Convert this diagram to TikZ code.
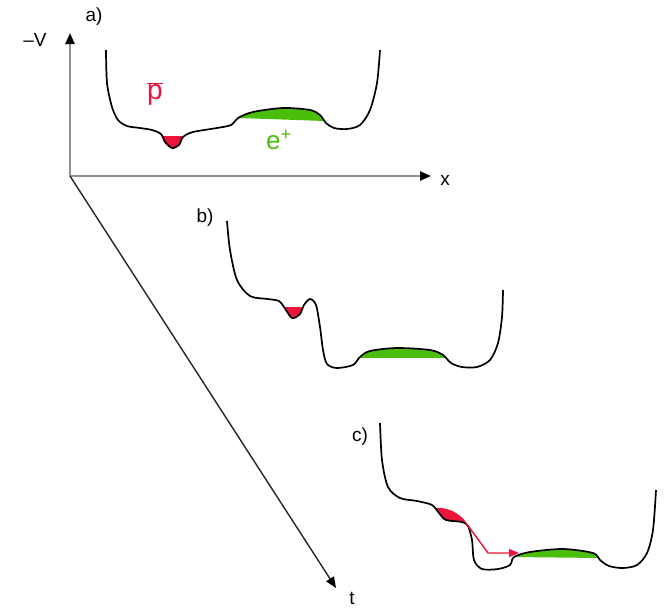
\documentclass[tikz,border=0pt]{standalone}
\usepackage{fontspec}
\setmainfont{Liberation Sans}
\usetikzlibrary{arrows.meta}
\definecolor{pbar}{RGB}{235,20,60}
\definecolor{epos}{RGB}{75,190,10}
\definecolor{axisgray}{RGB}{145,145,145}
\begin{document}
\begin{tikzpicture}[x=1pt,y=-1pt,
  axis/.style={line width=2.2pt,draw=axisgray,-{Triangle[length=11pt,width=9pt,color=black]}},
  taxis/.style={line width=1.4pt,draw=black!85,-{Triangle[length=11pt,width=9pt,color=black]}},
  pot/.style={line width=1.7pt,black,line join=round},
  lbl/.style={inner sep=0pt,font=\fontsize{19}{22}\selectfont},
  big/.style={inner sep=0pt,font=\fontsize{28}{30}\selectfont}]
\useasboundingbox (0,0) rectangle (667,611);

% potential curves at three times
\newcommand\curveA{plot[smooth,tension=0.5] coordinates {(106,50) (107,83) (112,107) (118,120) (127,126) (140,128) (152,130) (161,134) (165,142) (172,148) (179,145) (183,137) (193,132) (217,128) (231,125) (238,118) (253,112) (283,108) (310,110) (320,115) (326,123) (334,128) (347,129) (360,125) (370,110) (377,83) (380,50)}}
\newcommand\curveB{plot[smooth,tension=0.5] coordinates {(227,221) (230,250) (237,280) (250,296) (268,299) (279,301) (284,307) (292,318) (300,314) (304,305) (310,299) (316,305) (320,327) (323,350) (327,364) (337,368) (353,365) (360,357) (370,351) (397,348) (430,350) (443,355) (451,363) (462,367) (477,367) (490,360) (498,343) (502,317) (503,290)}}
\newcommand\curveC{plot[smooth,tension=0.5] coordinates {(380,423) (382,460) (388,487) (400,498) (417,501) (432,505) (439,513) (446,520) (462,522) (468,526) (472,540) (474,560) (482,569) (498,569) (510,565) (514,557) (530,552) (563,549) (593,553) (600,560) (609,566) (623,568) (637,565) (647,553) (653,530) (656,490)}}

% trapped antiprotons (red) and positron plasma (green)
\begin{scope}
  \clip (158,136) rectangle (188,160);
  \fill[pbar] \curveA -- (380,0) -- (106,0) -- cycle;
\end{scope}
\begin{scope}
  \clip (239,118) -- (325,121) -- (325,90) -- (239,90) -- cycle;
  \fill[epos] \curveA -- (380,300) -- (106,300) -- cycle;
\end{scope}
\begin{scope}
  \clip (280,307) rectangle (306,330);
  \fill[pbar] \curveB -- (503,150) -- (227,150) -- cycle;
\end{scope}
\begin{scope}
  \clip (359,357) -- (447,357) -- (447,330) -- (359,330) -- cycle;
  \fill[epos] \curveB -- (503,420) -- (227,420) -- cycle;
\end{scope}
\begin{scope}
  \clip (512,557) -- (601,558) -- (601,530) -- (512,530) -- cycle;
  \fill[epos] \curveC -- (656,620) -- (380,620) -- cycle;
\end{scope}
\fill[pbar] (436,508) .. controls (448,507) and (459,513) .. (466,522)
  -- (450,521) .. controls (443,520) and (440,515) .. cycle;

\draw[pot] \curveA;
\draw[pot] \curveB;
\draw[pot] \curveC;

% antiprotons spilling over into the positrons
\coordinate (spill) at (466,523);
\coordinate (bend) at (488,553);
\coordinate (land) at (519,553);
\draw[pbar,line width=1.4pt,-{Triangle[length=10pt,width=8pt]}] (spill) -- (bend) -- (land);

% axes
\coordinate (O) at (70,176);
\coordinate (vtip) at (70,33);
\coordinate (xtip) at (431,176);
\coordinate (ttip) at (336,588);
\draw[axis] (O) -- (vtip);
\draw[axis] (O) -- (xtip);
\draw[taxis] (O) -- (ttip);

% labels
\node[lbl] (la) at (94,17) {a)};
\node[lbl] (lb) at (205,218) {b)};
\node[lbl] (lc) at (360,437) {c)};
\node[lbl] (lv) at (35,40) {\textendash V};
\node[lbl] (lx) at (445,180) {x};
\node[lbl] (lt) at (352,598) {t};
\node[big,text=pbar] (lp) at (155,94) {$\overline{\mbox{p}}$};
\node[big,text=epos,font=\fontsize{26}{28}\selectfont] (le) at (279,140) {e\textsuperscript{+}};
\end{tikzpicture}
\end{document}
